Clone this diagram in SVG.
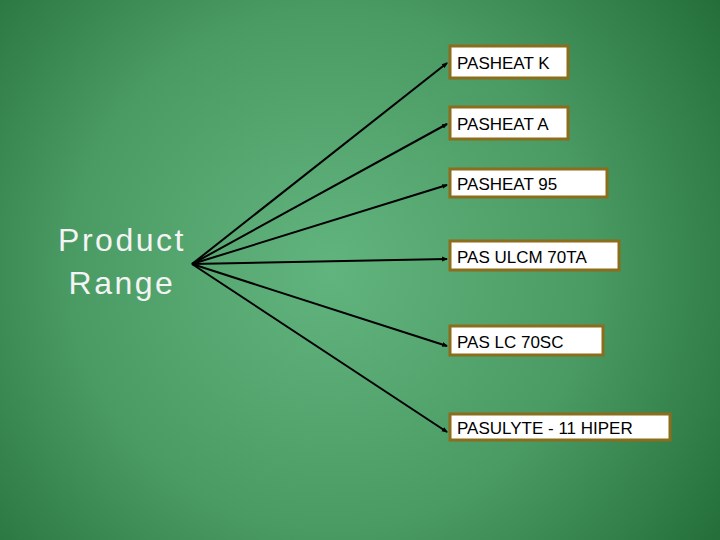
<svg xmlns="http://www.w3.org/2000/svg" width="720" height="540" viewBox="0 0 720 540">
<defs>
<radialGradient id="bg" cx="330" cy="270" r="520" gradientUnits="userSpaceOnUse">
<stop offset="0" stop-color="#62b47e"/>
<stop offset="0.5" stop-color="#4a9a63"/>
<stop offset="1" stop-color="#1c6630"/>
</radialGradient>
<marker id="ah" markerWidth="6" markerHeight="6" refX="5" refY="3" orient="auto" markerUnits="userSpaceOnUse"><path d="M0,0.5 L6,3 L0,5.5 Z" fill="#000"/></marker>
<style>
.box{fill:#fff;stroke:#8b6d1c;stroke-width:3}
.lbl{font-family:"Liberation Sans",Arial,sans-serif;font-size:17px;fill:#000}
.ln{stroke:#000;stroke-width:2;fill:none;marker-end:url(#ah)}
.big{font-family:"Liberation Sans",Arial,sans-serif;font-size:32px;letter-spacing:2.5px;fill:#f4f4f4}
</style>
</defs>
<rect width="720" height="540" fill="url(#bg)"/>
<g id="root"><text class="big" x="122" y="251" text-anchor="middle">Product</text><text class="big" x="122" y="294" text-anchor="middle">Range</text></g>
<g id="connectors">
<line class="ln" x1="192" y1="264" x2="447" y2="63"/>
<line class="ln" x1="192" y1="264" x2="447" y2="124"/>
<line class="ln" x1="192" y1="264" x2="447" y2="185"/>
<line class="ln" x1="192" y1="264" x2="447" y2="259"/>
<line class="ln" x1="192" y1="264" x2="447" y2="346"/>
<line class="ln" x1="192" y1="264" x2="447" y2="432"/>
</g>
<g id="n1"><rect class="box" x="450" y="46" width="118" height="32"/><text class="lbl" x="457" y="69">PASHEAT K</text></g>
<g id="n2"><rect class="box" x="450" y="107" width="118" height="32"/><text class="lbl" x="457" y="130">PASHEAT A</text></g>
<g id="n3"><rect class="box" x="450" y="169" width="157" height="28"/><text class="lbl" x="457" y="190">PASHEAT 95</text></g>
<g id="n4"><rect class="box" x="450" y="241" width="169" height="29"/><text class="lbl" x="457" y="263">PAS ULCM 70TA</text></g>
<g id="n5"><rect class="box" x="450" y="326" width="153" height="29"/><text class="lbl" x="457" y="348">PAS LC 70SC</text></g>
<g id="n6"><rect class="box" x="450" y="414" width="220" height="26"/><text class="lbl" x="457" y="434">PASULYTE - 11 HIPER</text></g>
</svg>
